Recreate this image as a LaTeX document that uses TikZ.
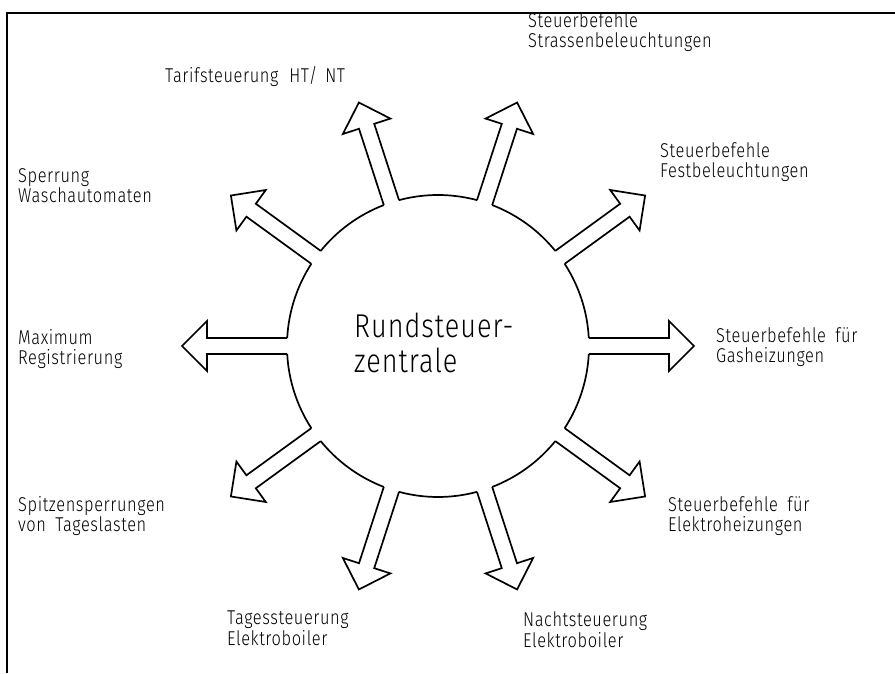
\documentclass[tikz,border=0pt]{standalone}
\usepackage{fontspec}
\setmainfont{Fira Sans}[UprightFont=* Light, FakeStretch=0.82, LetterSpace=3, WordSpace=1.8]
\begin{document}
\begin{tikzpicture}[x=1pt,y=1pt,
  lbl/.style={font=\fontsize{20}{20.5}\selectfont, align=left, anchor=base west, inner sep=0pt},
  ctr/.style={font=\fontsize{33}{35}\selectfont, align=left, anchor=base west, inner sep=0pt},
  arr/.style={line width=1.7pt, line join=miter, miter limit=10},
  frame/.style={line width=1.3pt}]
\useasboundingbox (0,0) rectangle (895,673);
\draw[frame] (7,0) -- (7,660) -- (895,660);
\coordinate (c) at (438,327);
\foreach \a in {0,36,...,324} {
  \begin{scope}[shift={(c)}, rotate=\a]
    \draw[arr] (3.04:151) arc[start angle=3.04, end angle=32.96, radius=151];
    \draw[arr] (150.8,8) -- (231,8) -- (231,25) -- (256,0) -- (231,-25) -- (231,-8) -- (150.8,-8);
  \end{scope}
}
% base anchors sit on the last line of each node
\node[ctr] (zentrale) at (354,300) {Rundsteuer-\\zentrale};
\node[lbl] (tarif) at (165,590) {Tarifsteuerung\kern11pt HT/\kern8pt NT};
\node[lbl] (strassen) at (528,625) {Steuerbefehle\\Strassenbeleuchtungen};
\node[lbl] (fest) at (660,495) {Steuerbefehle\\Festbeleuchtungen};
\node[lbl] (gas) at (716,310) {Steuerbefehle für\\Gasheizungen};
\node[lbl] (eheiz) at (668,141) {Steuerbefehle für\\Elektroheizungen};
\node[lbl] (nacht) at (523,26) {Nachtsteuerung\\Elektroboiler};
\node[lbl] (tages) at (227,28) {Tagessteuerung\\Elektroboiler};
\node[lbl] (spitzen) at (18,141) {Spitzensperrungen\\von Tageslasten};
\node[lbl] (maximum) at (18,308) {Maximum\\Registrierung};
\node[lbl] (sperrung) at (18,470) {Sperrung\\Waschautomaten};
\end{tikzpicture}
\end{document}
